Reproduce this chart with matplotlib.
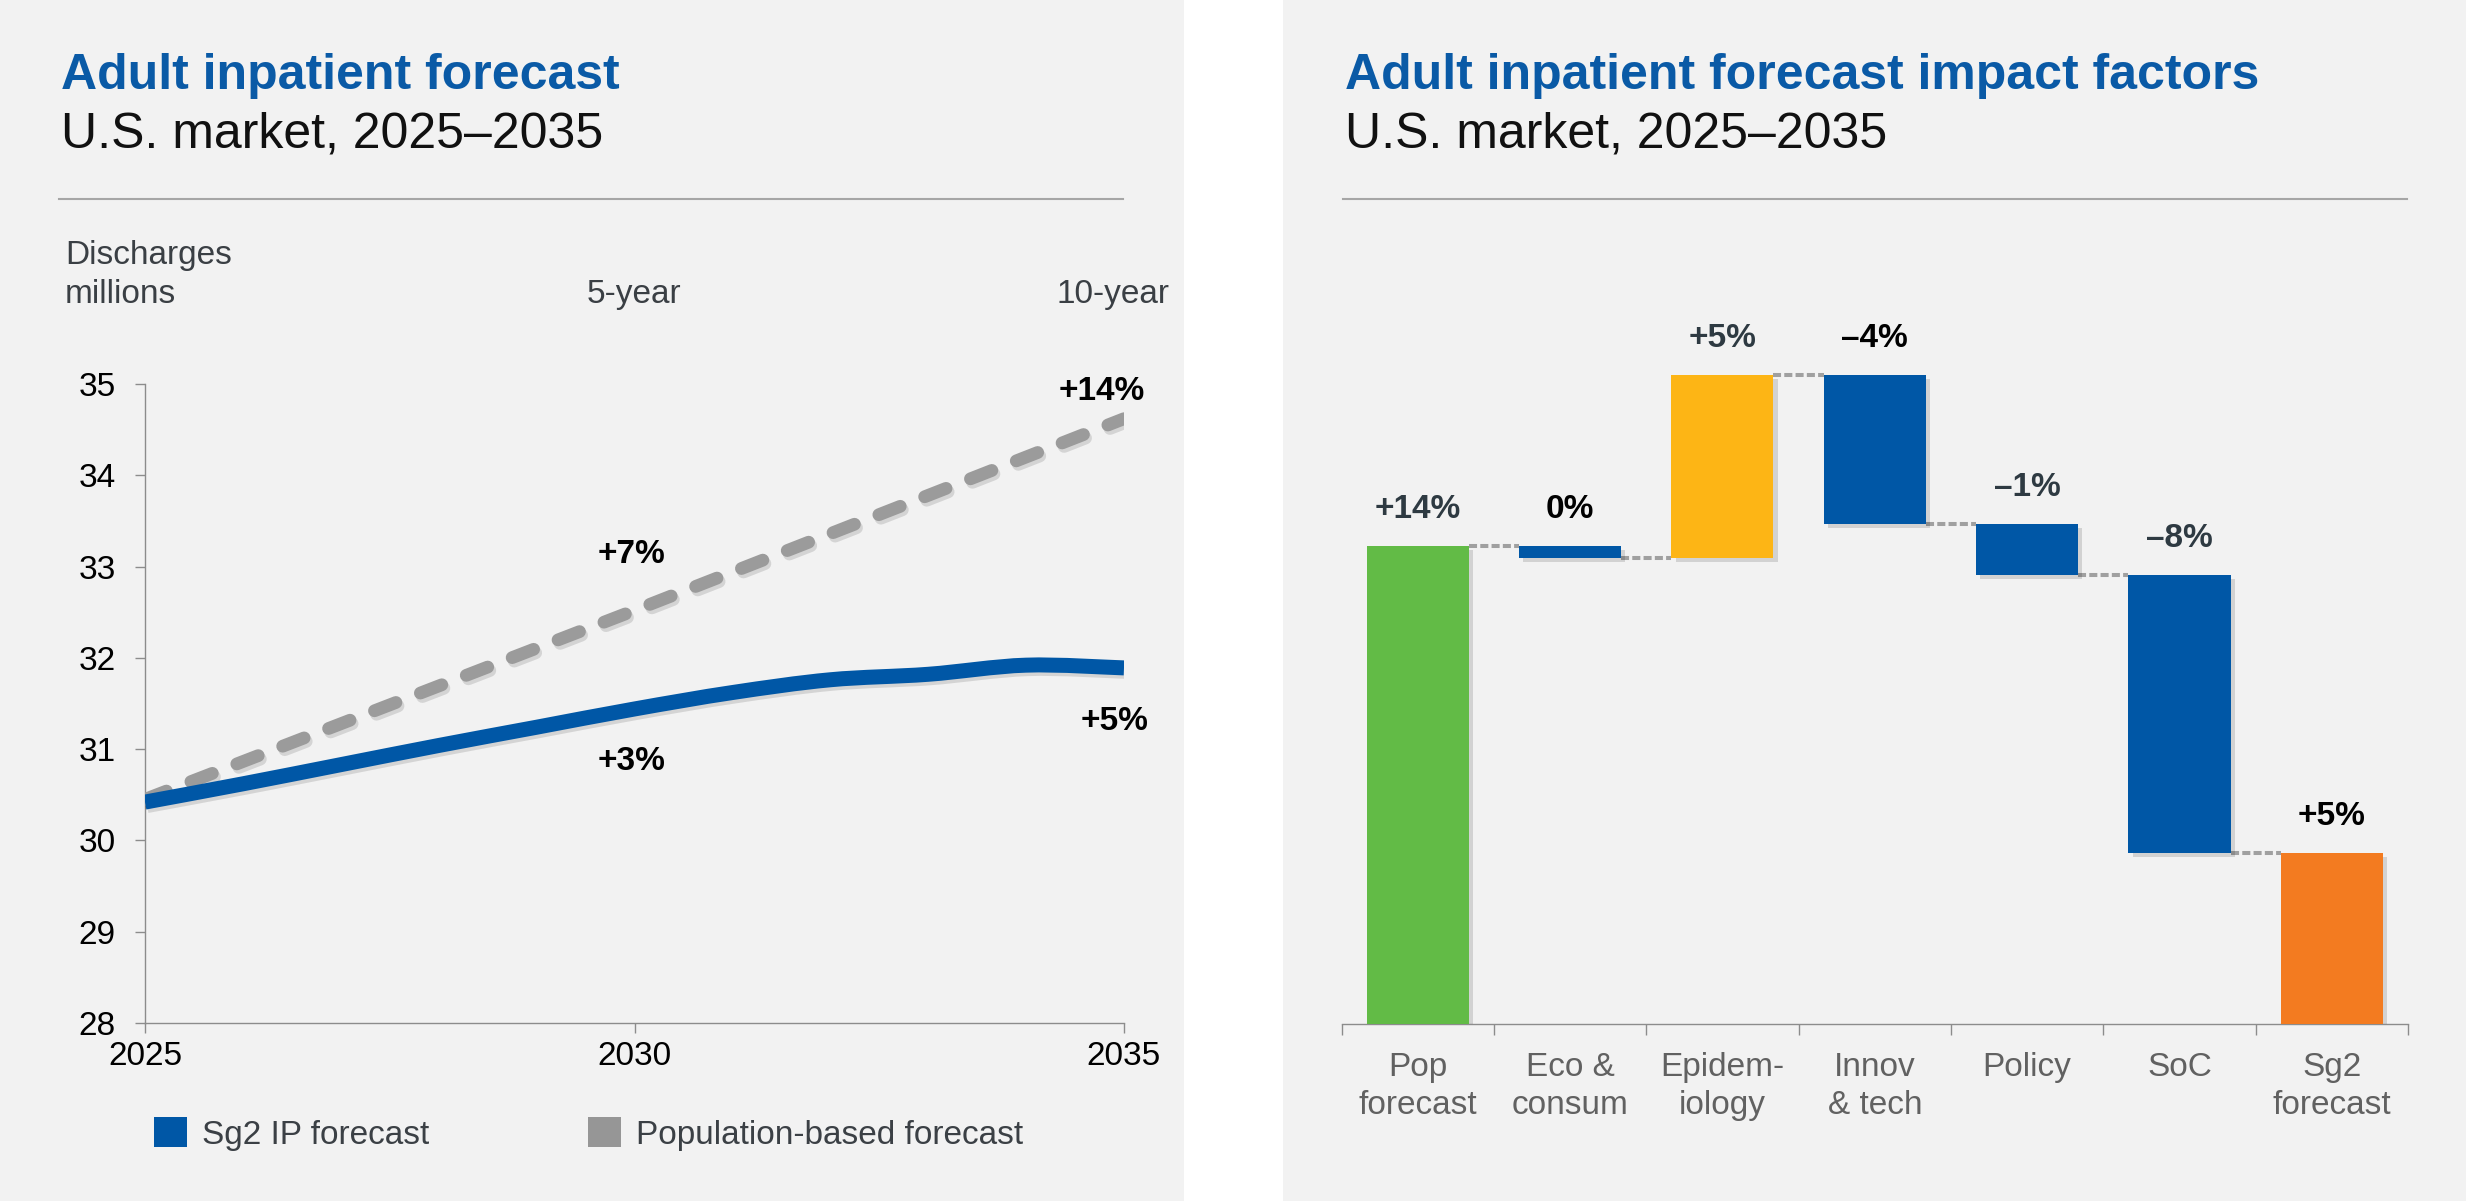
import matplotlib
matplotlib.use('Agg')
import matplotlib.pyplot as plt
import matplotlib.patheffects as pe
from matplotlib.patches import Patch, Rectangle, PathPatch
from matplotlib.lines import Line2D
from matplotlib.path import Path

plt.rcParams['font.family'] = ['Liberation Sans', 'DejaVu Sans']

# ---------------- data ----------------
years = [2025, 2026, 2027, 2028, 2029, 2030, 2031, 2032, 2033, 2034, 2035]
sg2_forecast = [30.42, 30.62, 30.83, 31.04, 31.24, 31.44, 31.62, 31.76, 31.82, 31.92, 31.89]
pop_years = [2025, 2030, 2035]
pop_forecast = [30.45, 32.52, 34.62]
y_ticks = [28, 29, 30, 31, 32, 33, 34, 35]
x_ticks = [2025, 2030, 2035]
series_names = ['Sg2 IP forecast', 'Population-based forecast']

categories = ['Pop\nforecast', 'Eco &\nconsum', 'Epidem-\niology', 'Innov\n& tech',
              'Policy', 'SoC', 'Sg2\nforecast']
changes = [14.0, -0.35, 5.35, -4.35, -1.5, -8.15]   # percentage points; last bar = total
bar_labels = ['+14%', '0%', '+5%', '\u20134%', '\u20131%', '\u20138%', '+5%']

# ---------------- style ----------------
BLUE = '#0057a6'
GREEN = '#62bb46'
YELLOW = '#fdb515'
ORANGE = '#f37b20'
GRAY_LINE = '#9b9b9b'
TITLE_BLUE = '#0a5aa6'
PANEL = '#f2f2f2'
AX_GRAY = '#8c8c8c'
FS = 24
bar_colors = [GREEN, BLUE, YELLOW, BLUE, BLUE, BLUE, ORANGE]
label_colors = ['#2e3a42', '#000000', '#2e3a42', '#000000', '#2e3a42', '#2e3a42', '#000000']

W, H, DPI = 2466, 1201, 100
fig = plt.figure(figsize=(W / DPI, H / DPI), dpi=DPI, facecolor='white')


def fx(p):
    return p / W


def fy(p):
    return 1 - p / H


def smooth_path(xs, ys):
    """Smoothed (Catmull-Rom style) Bezier path through the data points, like a spreadsheet 'smoothed line'."""
    pts = list(zip(xs, ys))
    verts = [pts[0]]
    codes = [Path.MOVETO]
    for i in range(len(pts) - 1):
        p0 = pts[i - 1] if i > 0 else pts[i]
        p1 = pts[i]
        p2 = pts[i + 1]
        p3 = pts[i + 2] if i + 2 < len(pts) else pts[i + 1]
        c1 = (p1[0] + (p2[0] - p0[0]) / 6.0, p1[1] + (p2[1] - p0[1]) / 6.0)
        c2 = (p2[0] - (p3[0] - p1[0]) / 6.0, p2[1] - (p3[1] - p1[1]) / 6.0)
        verts += [c1, c2, p2]
        codes += [Path.CURVE4] * 3
    return Path(verts, codes)


# panel backgrounds
fig.patches.append(Rectangle((0, 0), fx(1184), 1, transform=fig.transFigure,
                             facecolor=PANEL, edgecolor='none', zorder=-10))
fig.patches.append(Rectangle((fx(1283), 0), 1 - fx(1283), 1, transform=fig.transFigure,
                             facecolor=PANEL, edgecolor='none', zorder=-10))

# titles
for x0, t in [(61, 'Adult inpatient forecast'), (1345, 'Adult inpatient forecast impact factors')]:
    fig.text(fx(x0), fy(89), t, fontsize=36, fontweight='bold', color=TITLE_BLUE, va='baseline')
    fig.text(fx(x0), fy(148), 'U.S. market, 2025\u20132035', fontsize=36, color='#111111', va='baseline')
fig.add_artist(Line2D([fx(59), fx(1123)], [fy(199), fy(199)], color='#a6a6a6', lw=1.5))
fig.add_artist(Line2D([fx(1343), fx(2407)], [fy(199), fy(199)], color='#a6a6a6', lw=1.5))

# ---------------- left: line chart ----------------
ax1 = fig.add_axes([fx(145), fy(1023), fx(1124) - fx(145), fy(384) - fy(1023)])
ax1.set_facecolor('none')
ax1.set_xlim(2025, 2035)
ax1.set_ylim(28, 35)
for s in ['top', 'right']:
    ax1.spines[s].set_visible(False)
for s in ['left', 'bottom']:
    ax1.spines[s].set_color(AX_GRAY)
    ax1.spines[s].set_linewidth(1.0)
ax1.set_yticks(y_ticks)
ax1.set_xticks(x_ticks)
ax1.tick_params(axis='y', direction='out', length=7, width=1, color=AX_GRAY,
                labelsize=FS, pad=14, labelcolor='black')
ax1.tick_params(axis='x', direction='out', length=7, width=1, color=AX_GRAY,
                labelsize=FS, pad=6, labelcolor='black')

shadow = [pe.SimpleLineShadow(offset=(1.5, -2.5), shadow_color='k', alpha=0.12), pe.Normal()]
ax1.plot(pop_years, pop_forecast, color=GRAY_LINE, lw=9.2, linestyle=(0, (1.8, 2.05)),
         dash_capstyle='round', solid_capstyle='butt', path_effects=shadow, zorder=3)
sg2_patch = PathPatch(smooth_path(years, sg2_forecast), facecolor='none', edgecolor=BLUE,
                      lw=10.8, capstyle='butt', joinstyle='round', zorder=4,
                      path_effects=shadow)
ax1.add_patch(sg2_patch)

for (xv, yv, t) in [(2029.97, 33.04, '+7%'), (2034.77, 34.82, '+14%'),
                    (2029.97, 30.77, '+3%'), (2034.9, 31.21, '+5%')]:
    ax1.text(xv, yv, t, fontsize=FS, fontweight='bold', color='black',
             ha='center', va='baseline', clip_on=False)

fig.text(fx(65), fy(264), 'Discharges', fontsize=FS, color='#3a3f44', va='baseline')
fig.text(fx(65), fy(303), 'millions', fontsize=FS, color='#3a3f44', va='baseline')
fig.text(fx(634), fy(303), '5-year', fontsize=FS, color='#3a3f44', va='baseline', ha='center')
fig.text(fx(1113), fy(303), '10-year', fontsize=FS, color='#3a3f44', va='baseline', ha='center')

handles = [Patch(facecolor=BLUE, edgecolor='none'), Patch(facecolor='#969696', edgecolor='none')]
ax1.legend(handles, series_names, loc='center left', bbox_to_anchor=(fx(153.6), fy(1134)),
           bbox_transform=fig.transFigure, frameon=False, ncol=2, handlelength=1.0,
           handleheight=1.0, handletextpad=0.45, columnspacing=4.75, borderpad=0,
           borderaxespad=0, fontsize=FS, labelcolor='#3b4045')

# ---------------- right: waterfall ----------------
ax2 = fig.add_axes([fx(1341.5), fy(1024), fx(2408) - fx(1341.5), fy(341) - fy(1024)])
ax2.set_facecolor('none')
n = len(categories)
ax2.set_xlim(-0.5, n - 0.5)
ax2.set_ylim(0, 20)
for s in ['top', 'right', 'left']:
    ax2.spines[s].set_visible(False)
ax2.spines['bottom'].set_color(AX_GRAY)
ax2.spines['bottom'].set_linewidth(1.0)
ax2.set_yticks([])
ax2.set_xticks([i - 0.5 for i in range(n + 1)])
ax2.set_xticklabels([])
ax2.tick_params(axis='x', which='major', direction='out', length=8, width=1, color=AX_GRAY)
ax2.set_xticks(list(range(n)), minor=True)
ax2.set_xticklabels(categories, minor=True, fontsize=FS, color='#616161', linespacing=1.32)
ax2.tick_params(axis='x', which='minor', length=0, pad=20)

bottoms, heights, levels = [], [], []
cum = 0.0
for i, c in enumerate(changes):
    if i == 0:
        bottoms.append(0.0)
        heights.append(c)
        cum = c
    else:
        bottoms.append(min(cum, cum + c))
        heights.append(abs(c))
        cum = cum + c
    levels.append(cum)
bottoms.append(0.0)
heights.append(cum)
levels.append(cum)

bw = 0.67
bar_shadow = [pe.SimplePatchShadow(offset=(3, -3), shadow_rgbFace='k', alpha=0.13), pe.Normal()]
bars = ax2.bar(range(n), heights, bottom=bottoms, width=bw, color=bar_colors,
               edgecolor='none', zorder=3)
for b in bars:
    b.set_path_effects(bar_shadow)

for i in range(n - 1):
    ax2.plot([i + bw / 2, i + 1 - bw / 2], [levels[i], levels[i]], color='#a0a0a0',
             lw=2.9, linestyle=(0, (2.0, 0.8)), zorder=2)

for i in range(n):
    top = bottoms[i] + heights[i]
    ax2.annotate(bar_labels[i], (i, top), xytext=(0, 20), textcoords='offset points',
                 ha='center', va='baseline', fontsize=FS, fontweight='bold',
                 color=label_colors[i])

fig.savefig('out.png', dpi=DPI, facecolor='white')
